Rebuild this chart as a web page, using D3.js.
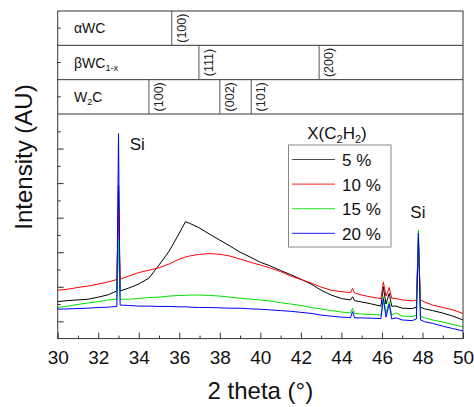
<!DOCTYPE html>
<html>
<head>
<meta charset="utf-8">
<script src="https://cdn.jsdelivr.net/npm/d3@7"></script>
<style>
  body { margin: 0; background: #fff; }
  svg { font-family: "Liberation Sans", Arial, sans-serif; }
</style>
</head>
<body>
<div id="chart"></div>
<script>
const width = 474;
const height = 407;

// 2 theta grid (deg) shared by all four patterns
const theta = [30, 30.5, 31, 31.5, 32, 32.5, 32.92, 33.0, 33.08, 33.5, 34, 34.5, 35, 35.5, 36, 36.3, 36.5,
  37, 37.5, 38, 38.5, 39, 39.5, 40, 40.5, 41, 41.5, 42, 42.5, 43, 43.5, 44, 44.45, 44.55, 44.65,
  45, 45.5, 45.95, 46.07, 46.2, 46.36, 46.48, 46.7, 47, 47.5, 47.7, 47.8, 47.9, 48.1, 48.5, 49, 49.5, 50];

// intensities (a.u.)
const int5 = [107, 110, 112, 114, 120, 127, 138, 444, 138, 146, 158, 175, 213, 253, 305, 338, 334,
  320, 302, 285, 268, 250, 236, 221, 210, 197, 185, 172, 158, 140, 126, 116, 112, 121, 110,
  106, 100, 94, 150, 100, 131, 94, 94, 88, 87, 91, 291, 91, 86, 81, 74, 65, 54];
const int10 = [140, 143, 148, 152, 158, 164, 171, 372, 172, 181, 191, 198, 205, 216, 230, 236, 239,
  244, 246, 244, 239, 230, 221, 213, 204, 194, 181, 171, 161, 149, 140, 136, 133, 145, 132,
  126, 120, 116, 164, 123, 148, 117, 116, 112, 109, 112, 285, 112, 106, 97, 90, 83, 73];
const int15 = [90, 94, 99, 103, 107, 112, 114, 285, 114, 114, 116, 119, 120, 123, 125, 125, 126,
  126, 125, 123, 120, 117, 114, 112, 109, 104, 100, 96, 90, 86, 81, 77, 74, 88, 73,
  71, 70, 68, 121, 74, 107, 68, 74, 65, 64, 68, 314, 65, 60, 54, 48, 41, 34];
const int20 = [85, 86, 87, 88, 90, 91, 93, 593, 97, 96, 94, 94, 93, 93, 92, 92, 91,
  90, 90, 89, 88, 88, 86, 85, 83, 81, 79, 76, 73, 68, 65, 62, 61, 78, 60,
  60, 59, 58, 116, 62, 100, 57, 60, 54, 52, 57, 305, 54, 49, 44, 36, 29, 22];

const seriesLabels = ['5 %', '10 %', '15 %', '20 %'];
const seriesColors = ['#000000', '#ff0000', '#00e000', '#0000ff'];
const seriesValues = [int5, int10, int15, int20];

// reference reflections per phase
const phases = ['aWC', 'bWC', 'W2C'];
const aWCPeaks = [{ pos: 35.63, hkl: '(100)' }];
const bWCPeaks = [{ pos: 36.97, hkl: '(111)' }, { pos: 42.9, hkl: '(200)' }];
const w2cPeaks = [{ pos: 34.5, hkl: '(100)' }, { pos: 38.0, hkl: '(002)' }, { pos: 39.55, hkl: '(101)' }];

const plotLeft = 57.7, plotRight = 463, plotTop = 11, panelBottom = 114, plotBottom = 338.6;

const svg = d3.select('#chart').append('svg')
  .attr('width', width)
  .attr('height', height);

const x = d3.scaleLinear().domain([30, 50]).range([plotLeft, plotRight]);
const y = d3.scaleLinear().domain([0, 650]).range([plotBottom, panelBottom]);
const row = d3.scaleBand().domain(phases).range([plotTop, panelBottom]);

// Curves
const line = d3.line()
  .x((d, i) => x(theta[i]))
  .y(d => y(d));

svg.append('g')
  .selectAll('path')
  .data(seriesValues)
  .join('path')
    .attr('d', d => line(d))
    .attr('fill', 'none')
    .attr('stroke', (d, i) => seriesColors[i])
    .attr('stroke-width', 1);

// Top reference panel
const panel = svg.append('g');
const rowPeaks = { aWC: aWCPeaks, bWC: bWCPeaks, W2C: w2cPeaks };

phases.forEach(p => {
  const y0 = row(p), y1 = y0 + row.bandwidth(), yc = y0 + row.bandwidth() / 2;
  panel.append('line')
    .attr('x1', plotLeft).attr('x2', plotRight)
    .attr('y1', y1).attr('y2', y1)
    .attr('stroke', '#333');
  panel.append('line')
    .attr('x1', plotLeft).attr('x2', plotLeft + 3)
    .attr('y1', yc).attr('y2', yc)
    .attr('stroke', '#333');
  rowPeaks[p].forEach(pk => {
    panel.append('line')
      .attr('x1', x(pk.pos)).attr('x2', x(pk.pos))
      .attr('y1', y0).attr('y2', y1)
      .attr('stroke', '#555');
    panel.append('text')
      .attr('transform', `translate(${x(pk.pos) + 14},${yc}) rotate(-90)`)
      .attr('text-anchor', 'middle')
      .attr('font-size', 12.5)
      .attr('fill', '#222')
      .text(pk.hkl);
  });
});

const rowLabel = (p, base) => panel.append('text')
  .attr('x', 74)
  .attr('y', row(p) + row.bandwidth() / 2 + 5)
  .attr('font-size', 14)
  .attr('fill', '#111')
  .text(base);

rowLabel('aWC', 'αWC');
const bLab = rowLabel('bWC', 'βWC');
bLab.append('tspan').attr('dy', 3).attr('font-size', 9).text('1-x');
const wLab = rowLabel('W2C', 'W');
wLab.append('tspan').attr('dy', 3).attr('font-size', 9).text('2');
wLab.append('tspan').attr('dy', -3).text('C');

// Frame
svg.append('rect')
  .attr('x', plotLeft).attr('y', plotTop)
  .attr('width', plotRight - plotLeft).attr('height', plotBottom - plotTop)
  .attr('fill', 'none')
  .attr('stroke', '#333');

// X axis (ticks inside)
const xAxis = svg.append('g').attr('transform', `translate(0,${plotBottom})`);
xAxis.call(d3.axisBottom(x).tickValues(d3.range(31, 50, 2)).tickSize(-3).tickFormat(''));
xAxis.append('g').call(d3.axisBottom(x).tickValues(d3.range(30, 51, 2)).tickSize(-6).tickPadding(12)
  .tickFormat(d3.format('d')));
xAxis.selectAll('.domain').remove();
xAxis.selectAll('line').attr('stroke', '#333');
xAxis.selectAll('text')
  .attr('font-size', 19)
  .attr('font-family', '"Liberation Sans", Arial, sans-serif')
  .attr('fill', '#111');

// Y axis (ticks inside, no labels)
const yAxis = svg.append('g').attr('transform', `translate(${plotLeft},0)`);
yAxis.call(d3.axisLeft(y).tickValues(d3.range(100, 601, 100)).tickSize(-3).tickFormat(''));
yAxis.append('g').call(d3.axisLeft(y).tickValues(d3.range(50, 601, 100)).tickSize(-6).tickFormat(''));
yAxis.selectAll('.domain').remove();
yAxis.selectAll('line').attr('stroke', '#333');

// Axis titles
svg.append('text')
  .attr('x', (plotLeft + plotRight) / 2)
  .attr('y', 399)
  .attr('text-anchor', 'middle')
  .attr('font-size', 24)
  .attr('fill', '#111')
  .text('2 theta (°)');

svg.append('text')
  .attr('transform', `translate(32,157) rotate(-90)`)
  .attr('text-anchor', 'middle')
  .attr('font-size', 24)
  .attr('fill', '#111')
  .text('Intensity (AU)');

// Si labels
svg.append('text').attr('x', x(33.55)).attr('y', 150)
  .attr('font-size', 17).attr('fill', '#111').text('Si');
svg.append('text').attr('x', x(47.4)).attr('y', 218)
  .attr('font-size', 17).attr('fill', '#111').text('Si');

// Legend
const legend = svg.append('g');
legend.append('rect')
  .attr('x', 288.5).attr('y', 145)
  .attr('width', 102.5).attr('height', 102)
  .attr('fill', '#fff')
  .attr('stroke', '#888');

const title = legend.append('text')
  .attr('x', 337).attr('y', 139)
  .attr('text-anchor', 'middle')
  .attr('font-size', 17)
  .attr('fill', '#111')
  .text('X(C');
title.append('tspan').attr('dy', 4).attr('font-size', 11).text('2');
title.append('tspan').attr('dy', -4).text('H');
title.append('tspan').attr('dy', 4).attr('font-size', 11).text('2');
title.append('tspan').attr('dy', -4).text(')');

const entry = legend.selectAll('.entry')
  .data(seriesLabels)
  .join('g')
    .attr('class', 'entry')
    .attr('transform', (d, i) => `translate(0,${159.5 + i * 24.6})`);

entry.append('line')
  .attr('x1', 292).attr('x2', 335)
  .attr('stroke', (d, i) => seriesColors[i])
  .attr('stroke-opacity', 0.7)
  .attr('stroke-width', 1.2);

entry.append('text')
  .attr('x', 342).attr('y', 6.5)
  .attr('font-size', 17)
  .attr('fill', '#111')
  .text(d => d);
</script>
</body>
</html>
